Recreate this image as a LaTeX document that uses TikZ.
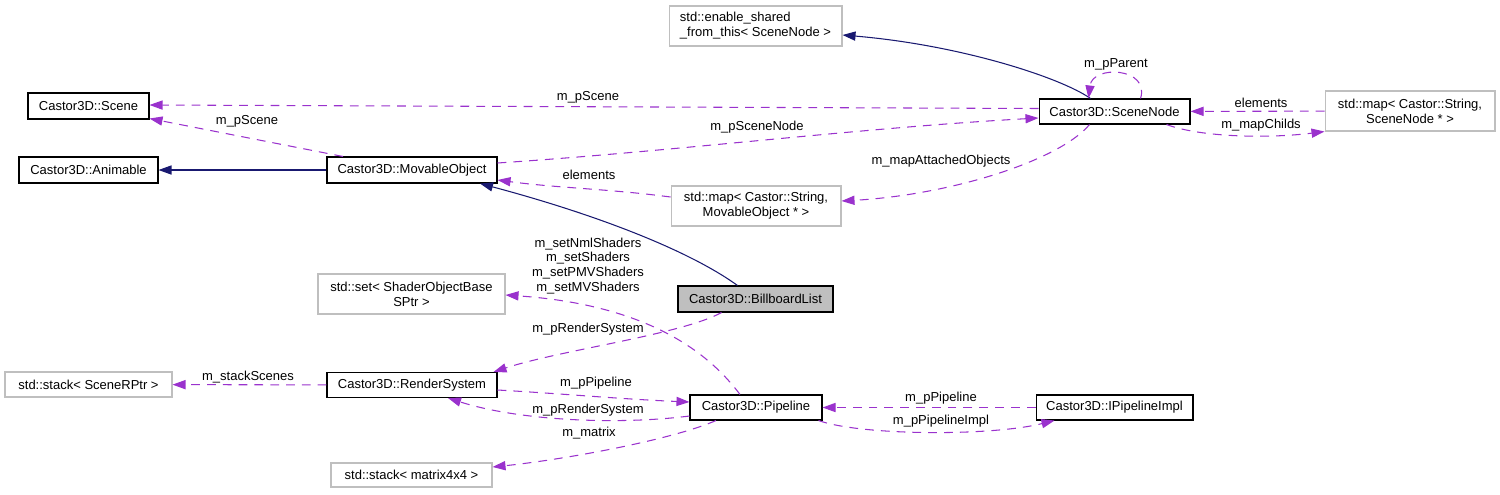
\documentclass[tikz,border=0pt]{standalone}
\usepackage{fontspec}
\setmainfont{Liberation Sans}
\usepackage{tikz}
\usetikzlibrary{calc,arrows.meta,positioning}
\definecolor{inhblue}{RGB}{25,25,112}
\definecolor{usepurple}{RGB}{154,50,205}
\definecolor{extgray}{RGB}{191,191,191}

\begin{document}
\begin{tikzpicture}[x=0.02cm,y=-0.02cm,
    every node/.style={font=\fontsize{7.4}{8.5}\selectfont},
    cls/.style={draw=black,fill=white,line width=0.6pt,inner sep=0pt,
                minimum height=0.52cm,align=center},
    ext/.style={cls,draw=extgray},
    cur/.style={cls,fill=extgray},
    inh/.style={draw=inhblue,line width=0.6pt,-{Triangle[length=7.4pt,width=5.2pt]}},
    uses/.style={draw=usepurple,line width=0.6pt,dash pattern=on 5pt off 4pt,
                 -{Triangle[length=7.4pt,width=5.2pt]}},
    lbl/.style={inner sep=0pt}]
  \useasboundingbox (0,0) rectangle (1500,494);
  % classes
  \node[ext,minimum width=3.46cm,minimum height=0.8cm,align=left] (enable) at (755.5,26)
        {std::enable\_shared\\\_from\_this< SceneNode >};
  \node[cls,minimum width=2.42cm] (scene) at (88.5,106) {Castor3D::Scene};
  \node[cls,minimum width=2.78cm] (animable) at (88.5,170) {Castor3D::Animable};
  \node[cls,minimum width=3.4cm] (movable) at (412,170) {Castor3D::MovableObject};
  \node[cls,minimum width=3.02cm,minimum height=0.5cm] (scenenode) at (1114.5,111.5) {Castor3D::SceneNode};
  \node[ext,minimum width=3.4cm,minimum height=0.8cm] (mapnode) at (1410,111)
        {std::map< Castor::String,\\SceneNode * >};
  \node[ext,minimum width=3.4cm,minimum height=0.8cm] (mapmovable) at (756,206)
        {std::map< Castor::String,\\MovableObject * >};
  \node[cur,minimum width=3.1cm] (billboard) at (755.5,299) {Castor3D::BillboardList};
  \node[ext,minimum width=3.74cm,minimum height=0.8cm] (setshader) at (411.5,294)
        {std::set< ShaderObjectBase\\SPtr >};
  \node[ext,minimum width=3.34cm,minimum height=0.5cm] (stackscene) at (88.5,384.5) {std::stack< SceneRPtr >};
  \node[cls,minimum width=3.4cm,minimum height=0.5cm] (rendersys) at (412,385) {Castor3D::RenderSystem};
  \node[cls,minimum width=2.64cm,minimum height=0.5cm] (pipeline) at (756,407.5) {Castor3D::Pipeline};
  \node[cls,minimum width=3.14cm,minimum height=0.5cm] (ipipeline) at (1114.5,407.5) {Castor3D::IPipelineImpl};
  \node[ext,minimum width=3.22cm,minimum height=0.48cm] (stackmatrix) at (411.5,475) {std::stack< matrix4x4 >};

  % inheritance
  \draw[inh] (movable) -- (animable);
  \draw[inh] ($(billboard.north)+(-18,0)$) .. controls +(-47,-34) and +(120,32) .. ($(movable.south)+(68,0)$);
  \draw[inh] ($(scenenode.north)+(-24,0)$) .. controls +(-30,-21) and +(118,10) .. ($(enable.east)+(0,9)$);

  % usage
  \draw[uses] ($(scenenode.west)+(0,-3)$) -- ($(scene.east)+(0,-1)$);
  \draw[uses] ($(movable.north)+(-69,0)$) -- ($(scene.south east)+(0,-1)$);
  \draw[uses] ($(movable.east)+(0,-7)$) .. controls +(180,-12) and +(-180,10) .. ($(scenenode.west)+(0,6.5)$);
  \draw[uses] ($(mapmovable.west)+(0,-9)$) .. controls +(-60,-8) and +(60,8) .. ($(movable.east)+(0,10)$);
  \draw[uses] ($(scenenode.south)+(-25,0)$) .. controls +(-30,36) and +(109,-6) .. ($(mapmovable.east)+(0,-5)$);
  \draw[uses] ($(scenenode.north)+(26,0)$) .. controls +(10,-31) and +(4,-34) .. ($(scenenode.north)+(-26,0)$);
  \draw[uses] (mapnode) -- (scenenode);
  \draw[uses] ($(scenenode.south)+(52,0)$) .. controls +(35,13) and +(-55,7) .. (mapnode.south west);
  \draw[uses] ($(pipeline.north)+(-16,0)$) .. controls +(-30,-40) and +(145,10) .. ($(setshader.east)+(0,1)$);
  \draw[uses] ($(billboard.south)+(-34,0)$) .. controls +(-40,22) and +(67,-22) .. ($(rendersys.north east)+(-4,0)$);
  \draw[uses] (rendersys) -- (stackscene);
  \draw[uses] ($(rendersys.east)+(0,5)$) .. controls +(70,4) and +(-70,-3) .. ($(pipeline.west)+(0,-5.5)$);
  \draw[uses] ($(pipeline.west)+(0,8.5)$) .. controls +(-70,9) and +(72,23) .. ($(rendersys.south)+(36,0)$);
  \draw[uses] ($(pipeline.south)+(-40,0)$) .. controls +(-46,20) and +(68,-7) .. ($(stackmatrix.east)+(0,-8)$);
  \draw[uses] (ipipeline) -- (pipeline);
  \draw[uses] ($(pipeline.south east)+(-4,0)$) .. controls +(42,15) and +(-65,16) .. ($(ipipeline.south)+(-60,0)$);

  % labels
  \node[lbl] (lscene) at (588,97) {m\_pScene};
  \node[lbl] (lscenemo) at (247,121) {m\_pScene};
  \node[lbl] (lscenenode) at (757,127) {m\_pSceneNode};
  \node[lbl] (lelemmo) at (589,175) {elements};
  \node[lbl] (lattached) at (941,161) {m\_mapAttachedObjects};
  \node[lbl] (lparent) at (1116,64) {m\_pParent};
  \node[lbl] (lelemsn) at (1261,103) {elements};
  \node[lbl] (lchilds) at (1261,125) {m\_mapChilds};
  \node[lbl,align=center] (lshaders) at (588,266)
        {m\_setNmlShaders\\m\_setShaders\\m\_setPMVShaders\\m\_setMVShaders};
  \node[lbl] (lrsbb) at (588,329) {m\_pRenderSystem};
  \node[lbl] (lstack) at (248,377) {m\_stackScenes};
  \node[lbl] (lpipe) at (596,383) {m\_pPipeline};
  \node[lbl] (lrspipe) at (588,410) {m\_pRenderSystem};
  \node[lbl] (lmatrix) at (589,433) {m\_matrix};
  \node[lbl] (lpipeimpl) at (941,398) {m\_pPipeline};
  \node[lbl] (limpl) at (941,421) {m\_pPipelineImpl};
\end{tikzpicture}
\end{document}
